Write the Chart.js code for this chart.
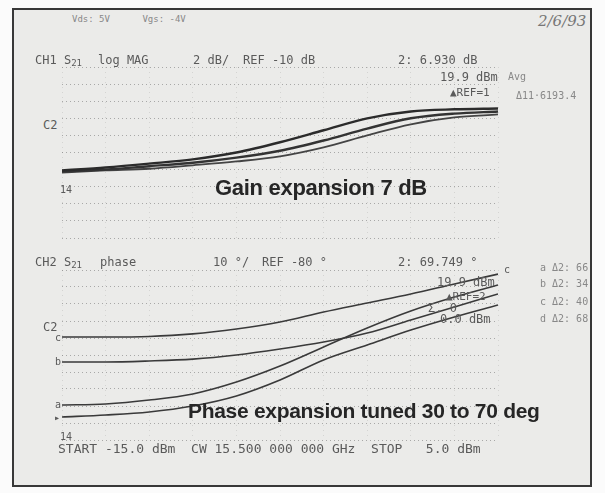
<!DOCTYPE html>
<html lang="en">
  <head>
    <meta charset="UTF-8" />
    <title>S21 gain and phase expansion</title>
    <script src="https://cdn.jsdelivr.net/npm/chart.js"></script>
    <style>
      html, body { margin: 0; padding: 0; background: #fbfbfb; }
      #sheet { position: relative; width: 605px; height: 493px; overflow: hidden; }
      #frame {
        position: absolute; left: 12px; top: 8px; width: 576px; height: 475px;
        border: 2px solid #383838; background: #ebebe9;
      }
      canvas { position: absolute; }
      .t {
        position: absolute; white-space: pre; color: #5a5a5a;
        font-family: "DejaVu Sans Mono", monospace; font-size: 12px; line-height: 12px;
      }
      .t sub { font-size: 9px; vertical-align: -2px; line-height: 0; }
      .big {
        position: absolute; white-space: pre; color: #262626;
        font-family: "Liberation Sans", Arial, sans-serif; font-weight: bold; letter-spacing: -0.3px;
      }
      .hand {
        position: absolute; color: #777; font-family: "DejaVu Serif", serif; font-style: italic;
      }
    </style>
  </head>
  <body>
    <div id="sheet">
      <div id="frame"></div>
      <canvas id="gainChart" width="444" height="179" style="left:58px; top:63px"></canvas>
      <canvas id="phaseChart" width="444" height="178" style="left:58px; top:266px"></canvas>

      <div class="t" style="left:72px; top:13px; font-size:9px; color:#888">Vds: 5V      Vgs: -4V</div>
      <div class="hand" style="left:538px; top:12px; font-size:15px">2/6/93</div>

      <!-- channel 1 -->
      <div class="t" style="left:35px; top:54px">CH1 S<sub>21</sub></div>
      <div class="t" style="left:98px; top:54px">log MAG</div>
      <div class="t" style="left:193px; top:54px">2 dB/</div>
      <div class="t" style="left:243px; top:54px">REF -10 dB</div>
      <div class="t" style="left:398px; top:54px">2: 6.930 dB</div>
      <div class="t" style="left:440px; top:71px">19.9 dBm</div>
      <div class="t" style="left:508px; top:71px; font-size:10px; color:#888">Avg</div>
      <div class="t" style="left:450px; top:87px; font-size:11px">▲REF=1</div>
      <div class="t" style="left:516px; top:90px; font-size:10px; color:#888">Δ11·6193.4</div>
      <div class="t" style="left:43px; top:119px">C2</div>
      <div class="t" style="left:60px; top:184px; font-size:10px">14</div>
      <div class="big" style="left:215px; top:175px; font-size:22px">Gain expansion 7 dB</div>

      <!-- channel 2 -->
      <div class="t" style="left:35px; top:256px">CH2 S<sub>21</sub></div>
      <div class="t" style="left:100px; top:256px">phase</div>
      <div class="t" style="left:213px; top:256px">10 °/</div>
      <div class="t" style="left:262px; top:256px">REF -80 °</div>
      <div class="t" style="left:398px; top:256px">2: 69.749 °</div>
      <div class="t" style="left:437px; top:276px">19.9 dBm</div>
      <div class="t" style="left:446px; top:291px; font-size:11px">▲REF=2</div>
      <div class="t" style="left:428px; top:302px">Σ. 0</div>
      <div class="t" style="left:440px; top:313px">0.0 dBm</div>
      <div class="t" style="left:504px; top:264px; font-size:10px">c</div>
      <div class="t" style="left:540px; top:262px; font-size:10px; color:#888">a Δ2: 66</div>
      <div class="t" style="left:540px; top:278px; font-size:10px; color:#888">b Δ2: 34</div>
      <div class="t" style="left:540px; top:296px; font-size:10px; color:#888">c Δ2: 40</div>
      <div class="t" style="left:540px; top:313px; font-size:10px; color:#888">d Δ2: 68</div>
      <div class="t" style="left:43px; top:321px">C2</div>
      <div class="t" style="left:55px; top:332px; font-size:10px">c</div>
      <div class="t" style="left:55px; top:356px; font-size:10px">b</div>
      <div class="t" style="left:55px; top:399px; font-size:10px">a</div>
      <div class="t" style="left:54px; top:412px; font-size:10px">▸</div>
      <div class="t" style="left:60px; top:431px; font-size:10px">14</div>
      <div class="big" style="left:188px; top:399px; font-size:21px">Phase expansion tuned 30 to 70 deg</div>
      <div class="t" style="left:58px; top:443px; font-size:13px">START -15.0 dBm  CW 15.500 000 000 GHz  STOP   5.0 dBm</div>
    </div>

    <script>
      // drive power sweep, dBm
      const powerDbm = [-15, -13, -11, -9, -7, -5, -3, -1, 1, 3, 5];

      // CH1: S21 log mag, dB (2 dB/div, ref -10 dB at centre)
      const gainA = [-12.1, -11.75, -11.3, -10.8, -10.0, -8.8, -7.4, -6.0, -5.2, -4.95, -4.85];
      const gainB = [-12.2, -12.0, -11.6, -11.2, -10.6, -9.8, -8.6, -7.2, -6.0, -5.45, -5.2];
      const gainC = [-12.35, -12.1, -11.9, -11.5, -11.05, -10.45, -9.4, -8.0, -6.7, -5.9, -5.55];

      // CH2: S21 phase, degrees (10 deg/div, ref -80 at centre)
      const phaseA = [-69.4, -69.4, -69.1, -67.6, -64.7, -60.6, -54.7, -49.4, -44.1, -38.2, -32.4];
      const phaseB = [-84.1, -84.1, -83.5, -82.4, -80.0, -76.5, -72.4, -67.1, -59.4, -51.8, -44.1];
      const phaseC = [-109.4, -108.8, -106.5, -102.9, -95.9, -86.5, -75.3, -64.1, -54.1, -45.9, -38.8];
      const phaseD = [-116.5, -115.3, -113.5, -110.0, -104.1, -94.7, -82.9, -74.1, -65.3, -57.6, -50.6];

      const gainRef = -10, gainPerDiv = 2;
      const phaseRef = -80, phasePerDiv = 10;

      function toPoints(values) {
        return values.map((v, i) => ({ x: powerDbm[i], y: v }));
      }

      function trace(values, width, color) {
        return {
          data: toPoints(values),
          borderColor: color,
          borderWidth: width,
          pointRadius: 0,
          fill: false,
          cubicInterpolationMode: "monotone",
        };
      }

      function graticule(ref, perDiv) {
        return {
          x: {
            type: "linear",
            min: powerDbm[0],
            max: powerDbm[powerDbm.length - 1],
            ticks: { display: false, stepSize: 2 },
            grid: { color: "rgba(60,60,60,0.13)", drawTicks: false, lineWidth: 1 },
            border: { display: false, dash: [1, 4] },
          },
          y: {
            min: ref - 5 * perDiv,
            max: ref + 5 * perDiv,
            ticks: { display: false, stepSize: perDiv },
            grid: { color: "rgba(60,60,60,0.38)", drawTicks: false, lineWidth: 1 },
            border: { display: false, dash: [1, 3] },
          },
        };
      }

      const baseOptions = {
        responsive: false,
        animation: false,
        layout: { padding: 4 },
        plugins: { legend: { display: false }, tooltip: { enabled: false } },
      };

      new Chart(document.getElementById("gainChart"), {
        type: "line",
        data: {
          datasets: [
            trace(gainA, 2.4, "#2b2b2b"),
            trace(gainB, 2.4, "#333333"),
            trace(gainC, 1.8, "#444444"),
          ],
        },
        options: Object.assign({}, baseOptions, { scales: graticule(gainRef, gainPerDiv) }),
      });

      new Chart(document.getElementById("phaseChart"), {
        type: "line",
        data: {
          datasets: [
            trace(phaseA, 1.6, "#3a3a3a"),
            trace(phaseB, 1.6, "#3a3a3a"),
            trace(phaseC, 1.6, "#3a3a3a"),
            trace(phaseD, 1.6, "#3a3a3a"),
          ],
        },
        options: Object.assign({}, baseOptions, { scales: graticule(phaseRef, phasePerDiv) }),
      });
    </script>
  </body>
</html>
